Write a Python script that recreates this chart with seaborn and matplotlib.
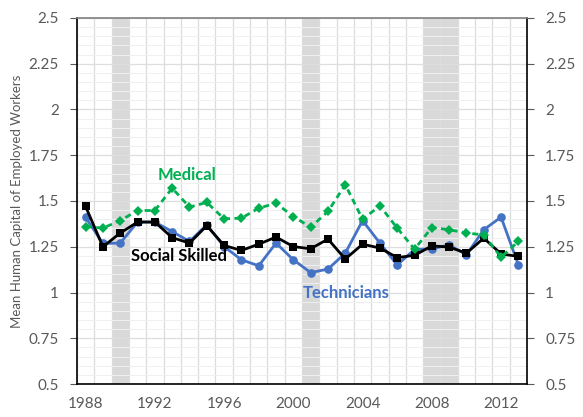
import numpy as np
import pandas as pd
import matplotlib
matplotlib.use("Agg")
import matplotlib.pyplot as plt
import seaborn as sns
from matplotlib.ticker import MultipleLocator, FixedLocator, FuncFormatter

# ---- data ----
years = list(range(1988, 2014))
social_skilled = [1.47, 1.25, 1.325, 1.385, 1.385, 1.30, 1.27, 1.365, 1.257, 1.23,
                  1.264, 1.303, 1.251, 1.239, 1.292, 1.183, 1.264, 1.243, 1.191, 1.203,
                  1.255, 1.248, 1.215, 1.297, 1.211, 1.197]
technicians = [1.41, 1.268, 1.27, 1.385, 1.385, 1.333, 1.279, 1.37, 1.251, 1.179,
               1.146, 1.27, 1.179, 1.109, 1.128, 1.215, 1.393, 1.27, 1.151, 1.235,
               1.239, 1.26, 1.206, 1.343, 1.412, 1.151]
medical = [1.36, 1.352, 1.393, 1.448, 1.448, 1.57, 1.467, 1.492, 1.403, 1.406,
           1.461, 1.488, 1.415, 1.357, 1.443, 1.589, 1.40, 1.474, 1.352, 1.237,
           1.355, 1.343, 1.325, 1.315, 1.193, 1.279]
recession_years = [1990, 2001, 2008, 2009]
label_years = [1988, 1992, 1996, 2000, 2004, 2008, 2012]

# long-form table, x as category index
idx = np.arange(len(years))
df = pd.DataFrame({
    "pos": np.concatenate([idx, idx, idx]),
    "value": technicians + social_skilled + medical,
    "group": ["Technicians"] * len(years) + ["Social Skilled"] * len(years) + ["Medical"] * len(years),
})

sns.set_style("white")
plt.rcParams["font.family"] = ["Lato", "DejaVu Sans"]

fig = plt.figure(figsize=(5.83, 4.17), dpi=100)
ax = fig.add_axes([0.132, 0.079, 0.772, 0.878])

# recession shading
for yr in recession_years:
    i = years.index(yr)
    ax.axvspan(i - 0.5, i + 0.5, color="#d9d9d9", zorder=0.5, lw=0)

palette = {"Technicians": "#4472C4", "Social Skilled": "black", "Medical": "#00B050"}
markers = {"Technicians": "o", "Social Skilled": "s", "Medical": "D"}
dashes = {"Technicians": "", "Social Skilled": "", "Medical": (2.2, 1.6)}

sns.lineplot(data=df, x="pos", y="value", hue="group", style="group",
             palette=palette, markers=markers, dashes=dashes, legend=False,
             linewidth=2.0, markersize=6.2, markeredgewidth=0, ax=ax, zorder=3)

# shrink the diamonds a bit
for line in ax.lines:
    if line.get_marker() == "D":
        line.set_markersize(5)

# axes / grid
ax.set_xlim(-0.5, len(years) - 0.5)
ax.set_ylim(0.5, 2.5)
ax.yaxis.set_major_locator(MultipleLocator(0.25))
ax.yaxis.set_minor_locator(MultipleLocator(0.05))
ax.yaxis.set_major_formatter(FuncFormatter(lambda v, p: f"{v:g}"))
ax.xaxis.set_major_locator(FixedLocator([years.index(y) for y in label_years]))
ax.set_xticklabels([str(y) for y in label_years])
ax.xaxis.set_minor_locator(FixedLocator(np.arange(-0.5, len(years), 1.0)))

ax.grid(which="minor", axis="x", color="#dcdcdc", lw=0.9, zorder=0)
ax.grid(which="major", axis="y", color="#dedede", lw=0.9, zorder=0)
ax.grid(which="minor", axis="y", color="#efefef", lw=0.7, zorder=0)
ax.set_axisbelow(True)

ax.tick_params(axis="x", which="major", length=0, labelsize=11, labelcolor="#595959", pad=9)
ax.tick_params(axis="x", which="minor", direction="in", length=4, color="black", width=0.9)
ax.tick_params(axis="y", which="major", direction="out", length=5, color="#595959",
               labelsize=11, labelcolor="#595959", left=True, right=True,
               labelleft=True, labelright=True, pad=8)
ax.tick_params(axis="y", which="minor", length=0)

for side in ["left", "right", "bottom"]:
    ax.spines[side].set_visible(True)
    ax.spines[side].set_color("black")
    ax.spines[side].set_linewidth(1.2)
ax.spines["top"].set_visible(True)
ax.spines["top"].set_color("#808080")
ax.spines["top"].set_linewidth(1.2)

ax.set_xlabel("")
ax.set_ylabel("Mean Human Capital of Employed Workers", fontsize=9.5, color="#595959", labelpad=4)

# series labels
ax.text(5.85, 1.64, "Medical", color="#00B050", fontsize=12, fontweight="bold", ha="center", va="center")
ax.text(5.4, 1.197, "Social Skilled", color="black", fontsize=12, fontweight="bold", ha="center", va="center")
ax.text(15.05, 1.0, "Technicians", color="#4472C4", fontsize=12, fontweight="bold", ha="center", va="center")

fig.savefig("out.png", dpi=100)
